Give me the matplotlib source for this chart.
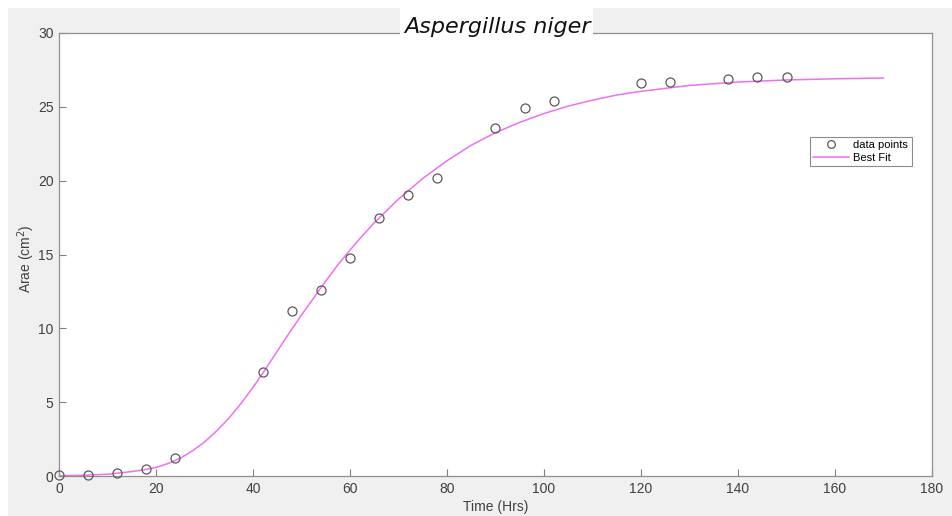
import matplotlib.pyplot as plt
from matplotlib.patches import Rectangle

# measured colony area (cm^2) over time (hrs)
time_hrs = [0, 6, 12, 18, 24, 42, 48, 54, 60, 66, 72, 78, 90, 96, 102, 120, 126, 138, 144, 150]
area = [0.05, 0.05, 0.2, 0.5, 1.2, 7.05, 11.15, 12.6, 14.75, 17.45, 19.05, 20.2,
        23.55, 24.9, 25.4, 26.6, 26.65, 26.9, 27.0, 27.0]

# fitted growth curve
fit_t = [0, 5, 10, 15, 17.5, 20, 22.5, 25, 27.5, 30, 32.5, 35, 37.5, 40, 42.5, 45,
         47.5, 50, 52.5, 55, 57.5, 60, 62.5, 65, 67.5, 70, 75, 80, 85,
         90, 95, 100, 105, 110, 115, 120, 130, 140, 150, 160, 170]
fit_area = [0.02, 0.05, 0.12, 0.3, 0.42, 0.58, 0.85, 1.2, 1.7, 2.3, 3.05, 3.9, 4.9,
            6.0, 7.2, 8.45, 9.7, 10.9, 12.05, 13.2, 14.3, 15.3, 16.25, 17.15, 17.95,
            18.75, 20.15, 21.35, 22.4, 23.25, 23.95, 24.55, 25.05, 25.45, 25.8, 26.05,
            26.45, 26.68, 26.82, 26.9, 26.95]

plt.rcParams['font.family'] = ['Liberation Sans', 'DejaVu Sans']

W, H = 953, 516
fig = plt.figure(figsize=(W / 100, H / 100), dpi=100, facecolor='white')
fig.patches.append(Rectangle((8 / W, 0), 1, 1 - 8 / H, transform=fig.transFigure,
                             facecolor='#f0f0f0', edgecolor='none', zorder=-1))

ax = fig.add_axes([59 / W, 40 / H, (932 - 59) / W, (476 - 33) / H])
ax.set_facecolor('white')

ax.plot(time_hrs, area, 'o', mfc='none', mec='#5a5a5a', ms=6.5, mew=0.9,
        label='data points', clip_on=False, zorder=3)
ax.plot(fit_t, fit_area, '-', color='#f070f0', lw=1.1, label='Best Fit', zorder=2)

ax.set_xlim(0, 180)
ax.set_ylim(0, 30)
ax.set_xticks(range(0, 181, 20))
ax.set_yticks(range(0, 31, 5))
ax.tick_params(direction='in', length=5, width=0.8, color='#808080',
               labelsize=10, labelcolor='#404040', pad=4)
for s in ax.spines.values():
    s.set_color('#909090')
    s.set_linewidth(0.9)

ax.set_xlabel('Time (Hrs)', fontsize=10, color='#404040', labelpad=3)
ax.set_ylabel('Arae (cm$^2$)', fontsize=10, color='#404040')
ax.yaxis.set_label_coords(-0.025, 0.49)

leg = ax.legend(loc='upper left', bbox_to_anchor=((810 - 59) / (932 - 59), (476 - 137) / (476 - 33)),
                fontsize=8, frameon=True, fancybox=False, handlelength=3.2, markerscale=0.85,
                borderpad=0.3, labelspacing=0.2, handletextpad=0.4, borderaxespad=0)
leg.get_frame().set_edgecolor('#707070')
leg.get_frame().set_linewidth(0.8)

# white title box over the top edge of the axes
fig.patches.append(Rectangle((400 / W, 1 - 42 / H), 193 / W, 42 / H, transform=fig.transFigure,
                             facecolor='white', edgecolor='none', zorder=5))
fig.text(497 / W, 1 - 27 / H, 'Aspergillus niger', fontsize=16, style='italic',
         family='DejaVu Sans', ha='center', va='center', color='#111111', zorder=6)

fig.savefig('out.png', dpi=100, facecolor=fig.get_facecolor())
